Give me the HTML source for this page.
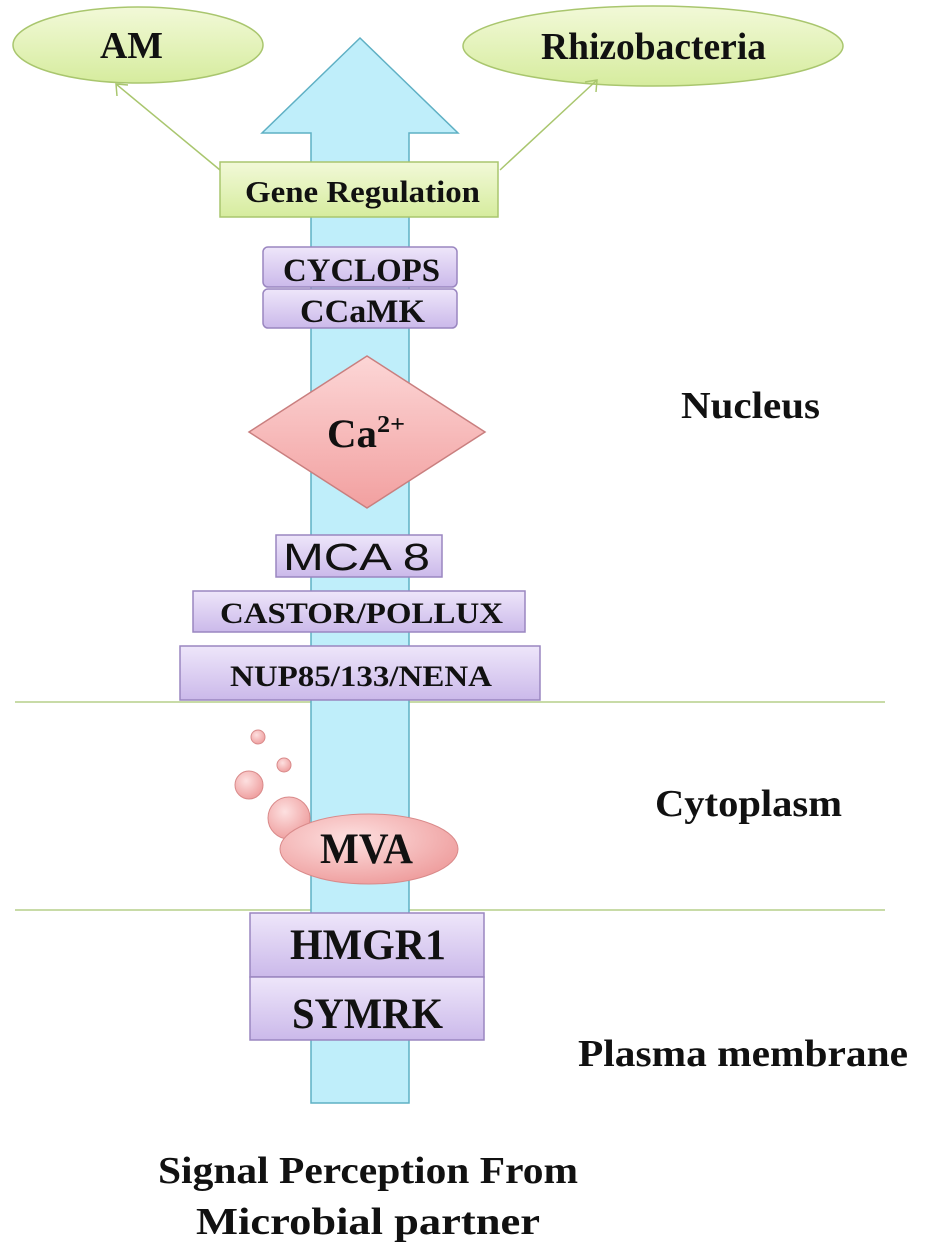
<!DOCTYPE html>
<html><head><meta charset="utf-8"><style>body{margin:0;background:#fff}svg{display:block}text{font-family:"Liberation Serif",serif;font-weight:bold;fill:#111}</style></head>
<body>
<svg width="950" height="1259" viewBox="0 0 950 1259" xmlns="http://www.w3.org/2000/svg">
<defs>
<linearGradient id="gr" x1="0" y1="0" x2="0" y2="1"><stop offset="0" stop-color="#f2f9d8"/><stop offset="1" stop-color="#d6ec9e"/></linearGradient>
<linearGradient id="pu" x1="0" y1="0" x2="0" y2="1"><stop offset="0" stop-color="#eee6fa"/><stop offset="1" stop-color="#cbb9ea"/></linearGradient>
<linearGradient id="pk" x1="0" y1="0" x2="0" y2="1"><stop offset="0" stop-color="#fcd6d6"/><stop offset="1" stop-color="#f2a0a0"/></linearGradient>
<radialGradient id="bub" cx="0.4" cy="0.35" r="0.7"><stop offset="0" stop-color="#fde0e0"/><stop offset="1" stop-color="#ee9c9c"/></radialGradient>
</defs>
<line x1="15" y1="702" x2="885" y2="702" stroke="#b5cf8a" stroke-width="1.5"/>
<line x1="15" y1="910" x2="885" y2="910" stroke="#b5cf8a" stroke-width="1.5"/>
<polygon points="360,38 458,133 409,133 409,1103 311,1103 311,133 262,133" fill="#bfeefa" stroke="#5fb0c4" stroke-width="1.5"/>
<ellipse cx="138" cy="45" rx="125" ry="38" fill="url(#gr)" stroke="#a9c66e" stroke-width="1.5"/>
<ellipse cx="653" cy="46" rx="190" ry="40" fill="url(#gr)" stroke="#a9c66e" stroke-width="1.5"/>
<text x="100" y="58" font-size="38" textLength="63" lengthAdjust="spacingAndGlyphs">AM</text>
<text x="541" y="59" font-size="38" textLength="225" lengthAdjust="spacingAndGlyphs">Rhizobacteria</text>
<g stroke="#a9c66e" stroke-width="1.5" fill="none">
<line x1="220" y1="170" x2="116" y2="84"/><polyline points="117,96 116,84 128,85"/>
<line x1="500" y1="170" x2="597" y2="80"/><polyline points="585,82 597,80 596,92"/>
</g>
<rect x="220" y="162" width="278" height="55" fill="url(#gr)" stroke="#a9c66e" stroke-width="1.5"/>
<text x="245" y="202" font-size="31" textLength="235" lengthAdjust="spacingAndGlyphs">Gene Regulation</text>
<g fill="url(#pu)" stroke="#9a86c0" stroke-width="1.5">
<rect x="263" y="247" width="194" height="40" rx="5"/>
<rect x="263" y="289" width="194" height="39" rx="5"/>
<rect x="276" y="535" width="166" height="42"/>
<rect x="193" y="591" width="332" height="41"/>
<rect x="180" y="646" width="360" height="54"/>
<rect x="250" y="913" width="234" height="64"/>
<rect x="250" y="977" width="234" height="63"/>
</g>
<text x="283" y="281" font-size="33" textLength="157" lengthAdjust="spacingAndGlyphs">CYCLOPS</text>
<text x="300" y="322" font-size="33" textLength="125" lengthAdjust="spacingAndGlyphs">CCaMK</text>
<polygon points="367,356 485,432 367,508 249,432" fill="url(#pk)" stroke="#c97f7f" stroke-width="1.5"/>
<text x="327" y="447" font-size="40" textLength="50" lengthAdjust="spacingAndGlyphs">Ca</text>
<text x="377" y="432" font-size="24" textLength="28" lengthAdjust="spacingAndGlyphs">2+</text>
<text x="283" y="570" font-size="38" textLength="147" lengthAdjust="spacingAndGlyphs" style="font-family:'Liberation Sans',sans-serif;font-weight:normal">MCA 8</text>
<text x="220" y="623" font-size="30" textLength="283" lengthAdjust="spacingAndGlyphs">CASTOR/POLLUX</text>
<text x="230" y="686" font-size="30" textLength="262" lengthAdjust="spacingAndGlyphs">NUP85/133/NENA</text>
<g fill="url(#bub)" stroke="#d98a8a" stroke-width="1">
<circle cx="258" cy="737" r="7"/>
<circle cx="284" cy="765" r="7"/>
<circle cx="249" cy="785" r="14"/>
<circle cx="289" cy="818" r="21"/>
<ellipse cx="369" cy="849" rx="89" ry="35"/>
</g>
<text x="320" y="863" font-size="43" textLength="93" lengthAdjust="spacingAndGlyphs">MVA</text>
<text x="290" y="959" font-size="43" textLength="156" lengthAdjust="spacingAndGlyphs">HMGR1</text>
<text x="292" y="1028" font-size="43" textLength="151" lengthAdjust="spacingAndGlyphs">SYMRK</text>
<text x="681" y="418" font-size="38" textLength="139" lengthAdjust="spacingAndGlyphs">Nucleus</text>
<text x="655" y="816" font-size="38" textLength="187" lengthAdjust="spacingAndGlyphs">Cytoplasm</text>
<text x="578" y="1066" font-size="38" textLength="330" lengthAdjust="spacingAndGlyphs">Plasma membrane</text>
<text x="158" y="1183" font-size="38" textLength="420" lengthAdjust="spacingAndGlyphs">Signal Perception From</text>
<text x="196" y="1234" font-size="38" textLength="344" lengthAdjust="spacingAndGlyphs">Microbial partner</text>
</svg>
</body></html>
